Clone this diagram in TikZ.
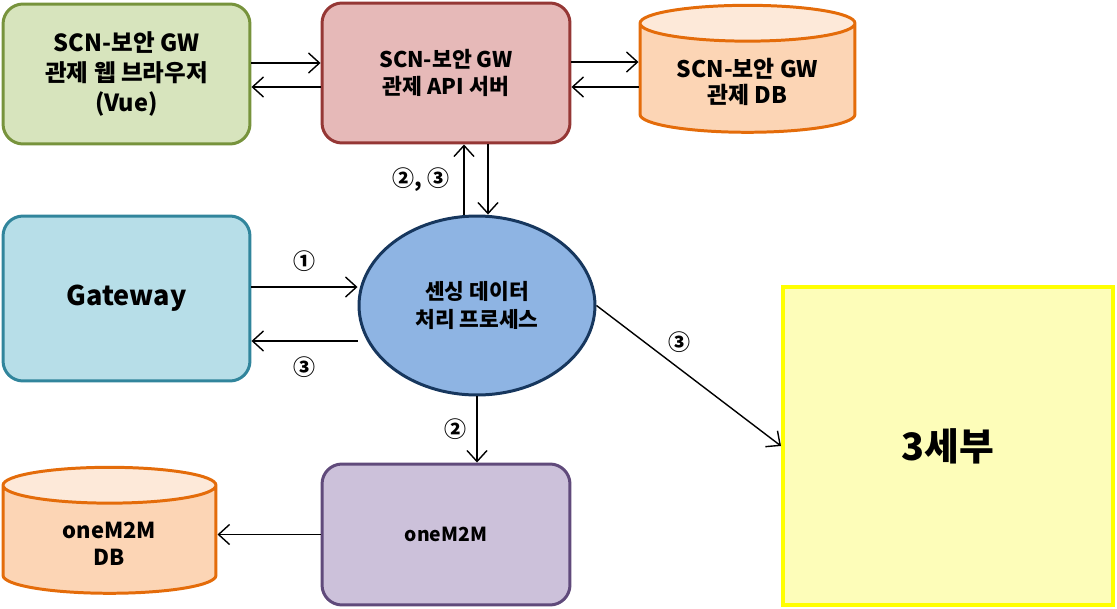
\documentclass[tikz,border=0pt]{standalone}
\usepackage{fontspec}
\setmainfont{Noto Sans CJK KR}
\usetikzlibrary{shapes.geometric,arrows.meta}
\definecolor{webfill}{HTML}{D7E4BD}\definecolor{webline}{HTML}{77933C}
\definecolor{apifill}{HTML}{E6B9B8}\definecolor{apiline}{HTML}{953735}
\definecolor{dbbody}{HTML}{FCD5B5}\definecolor{dbtop}{HTML}{FDE9D9}\definecolor{dbline}{HTML}{E46C0A}
\definecolor{gwfill}{HTML}{B7DEE8}\definecolor{gwline}{HTML}{31859C}
\definecolor{procfill}{HTML}{8EB4E3}\definecolor{procline}{HTML}{17375E}
\definecolor{subfill}{HTML}{FDFDB9}\definecolor{subline}{HTML}{FFFF00}
\definecolor{mfill}{HTML}{CCC1DA}\definecolor{mline}{HTML}{604A7B}
\newcommand{\dbspace}{\phantom{SCN-보안 GW}\\\phantom{관제 DB}}
\begin{document}
\begin{tikzpicture}[x=0.02cm,y=-0.02cm,
  >={Straight Barb[length=2.2mm,width=4mm]},
  box/.style={draw,rounded corners=0.4cm,line width=1.7pt,align=center,inner sep=0pt,font=\bfseries},
  db/.style={cylinder,shape border rotate=90,aspect=0.3,draw=dbline,line width=1.7pt,
    cylinder uses custom fill,cylinder body fill=dbbody,cylinder end fill=dbtop,
    align=center,inner sep=0pt,font=\bfseries\fontsize{11}{15}\selectfont},
  dbtext/.style={align=center,inner sep=0pt,font=\bfseries\fontsize{13}{15.3}\selectfont},
  num/.style={font=\bfseries\fontsize{12.5}{14}\selectfont,inner sep=0pt},
  link/.style={->,line width=0.8pt}]
\useasboundingbox (0,0) rectangle (1117,609);
% boxes
\node[box,fill=webfill,draw=webline,minimum width=4.94cm,minimum height=2.8cm,
  font=\bfseries\fontsize{13.4}{17}\selectfont] (web) at (126.5,74) {SCN-보안 GW\\관제 웹 브라우저\\(Vue)};
\node[box,fill=apifill,draw=apiline,minimum width=4.96cm,minimum height=2.8cm,
  font=\bfseries\fontsize{12.3}{15.3}\selectfont] (api) at (446,73) {SCN-보안 GW\\관제 API 서버};
\node[db,minimum width=4.3cm,minimum height=2.54cm] (gwdb) at (747.5,78.5) {\dbspace};
\node[dbtext] (gwdbtext) at ([yshift=-0.07cm]gwdb.center) {SCN-보안 GW\\관제 DB};
\node[box,fill=gwfill,draw=gwline,minimum width=4.94cm,minimum height=3.3cm,
  font=\bfseries\fontsize{15.4}{17}\selectfont] (gw) at (126.5,298.5) {Gateway};
\node[ellipse,draw=procline,fill=procfill,line width=1.7pt,minimum width=4.72cm,minimum height=3.58cm,
  align=center,inner sep=0pt,font=\bfseries\fontsize{12.2}{16}\selectfont] (proc) at (477,305.5) {센싱 데이터\\처리 프로세스};
\node[draw=subline,fill=subfill,line width=2.3pt,minimum width=6.6cm,minimum height=6.36cm,
  font=\bfseries\fontsize{21.5}{26}\selectfont] (sub) at (948,446) {3세부};
\node[box,fill=mfill,draw=mline,minimum width=4.96cm,minimum height=2.82cm,
  font=\bfseries\fontsize{11}{15}\selectfont] (m2m) at (446,534.5) {oneM2M};
\node[db,minimum width=4.26cm,minimum height=2.52cm] (m2mdb) at (109.5,540) {\dbspace};
\node[dbtext,font=\bfseries\fontsize{12.5}{15.3}\selectfont] (m2mdbtext) at ([yshift=-0.07cm]m2mdb.center) {oneM2M\\DB};
% arrows
\draw[link] ([yshift=0.22cm]web.east) -- ([yshift=0.22cm]web.east -| api.west);
\draw[link] ([yshift=-0.28cm]api.west) -- ([yshift=-0.28cm]api.west -| web.east);
\draw[link] ([yshift=0.22cm]api.east) -- ([yshift=0.22cm]api.east -| gwdb.west);
\draw[link] ([yshift=-0.28cm]api.east -| gwdb.west) -- ([yshift=-0.28cm]api.east);
\draw[link] ([xshift=-0.26cm]proc.north) -- ([xshift=-0.26cm]proc.north |- api.south)
  node[num,midway,left=0.28cm] {②, ③};
\draw[link] ([xshift=0.22cm]api.south -| proc.north) -- ([xshift=0.22cm]proc.north);
\draw[link] ([yshift=0.23cm]gw.east) -- ([yshift=0.23cm]gw.east -| proc.west)
  node[num,midway,above=0.3cm] {①};
\draw[link] ([yshift=-0.71cm]proc.west) -- ([yshift=-0.71cm]proc.west -| gw.east)
  node[num,midway,below=0.3cm] {③};
\draw[link] (proc.south) -- (proc.south |- m2m.north) node[num,midway,left=0.2cm] {②};
\draw[link] (m2m.west) -- (m2m.west -| m2mdb.east);
\draw[link] (proc.east) -- (sub.west) node[num,pos=0.45,above=0.3cm] {③};
\end{tikzpicture}
\end{document}
